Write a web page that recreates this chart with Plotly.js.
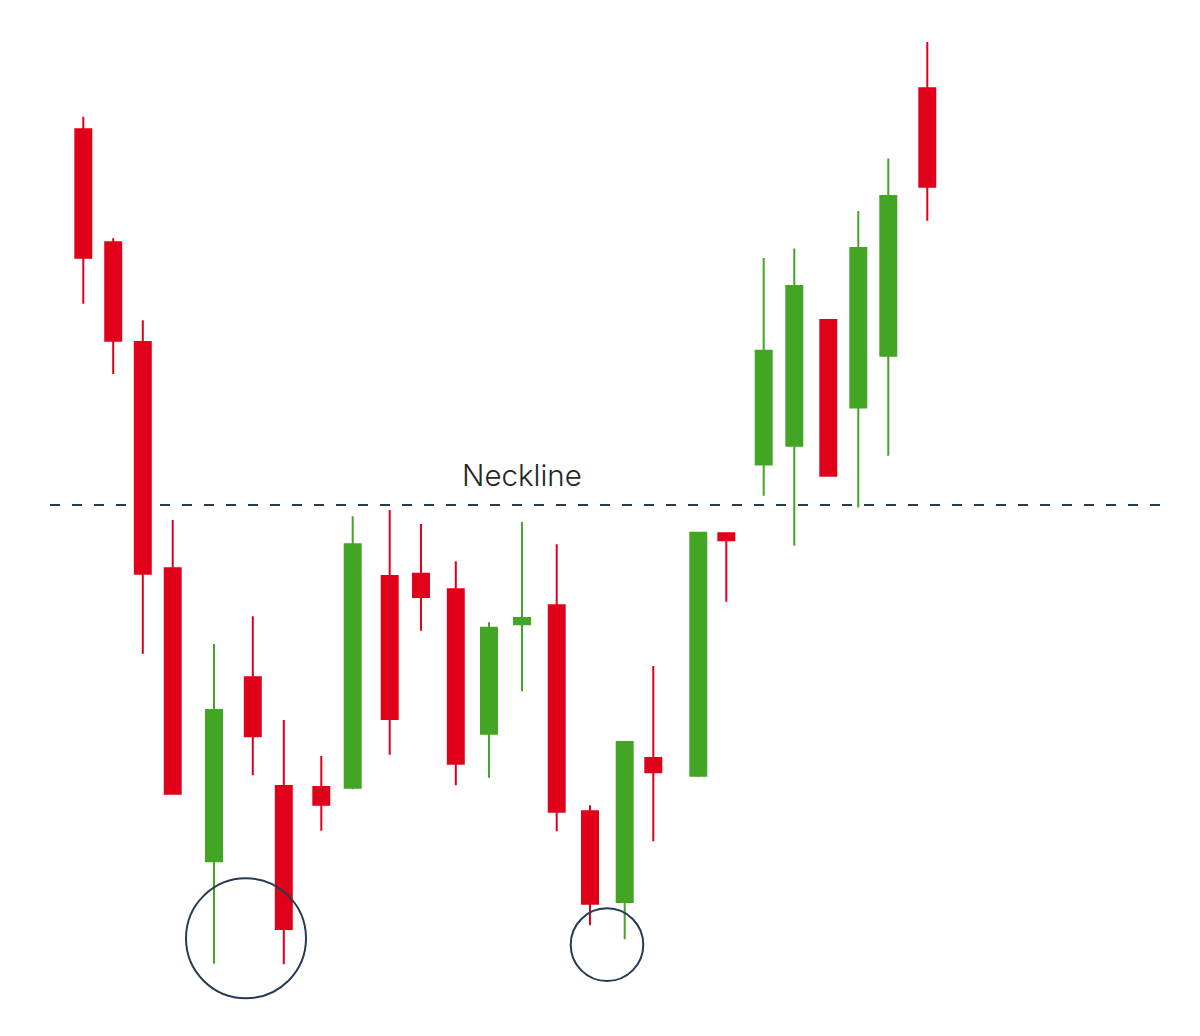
<!DOCTYPE html>
<html>
<head>
<meta charset="utf-8">
<script src="https://cdn.plot.ly/plotly-3.0.1.min.js"></script>
<style>
  html, body { margin: 0; padding: 0; background: #ffffff; }
  #chart { width: 1200px; height: 1036px; }
</style>
</head>
<body>
<div id="chart"></div>
<script>
// Session positions (time axis, irregular spacing as in the picture)
const sessions = [83.3, 113.2, 142.8, 172.7, 214, 252.8, 283.8, 321.3, 352.7, 389.7, 421, 455.8, 489, 522, 556.7, 590, 624.7, 653.3, 698.3, 726.3, 763.7, 794.3, 828.3, 858.3, 888.3, 927.3];

const openPrices  = [906.7, 793.7, 694.0, 467.7, 174.7, 358.7, 250.0, 249.0, 248.3, 460.0, 462.3, 446.7, 302.3, 411.7, 430.7, 224.7, 134.0, 278.0, 260.3, 502.7, 571.4, 590.3, 716.0, 628.5, 680.3, 947.8];
const highPrices  = [919.3, 797.7, 715.7, 516.0, 392.0, 419.7, 316.0, 280.0, 519.7, 526.0, 512.0, 474.7, 413.7, 514.0, 491.7, 230.7, 294.0, 370.0, 503.7, 502.7, 778.1, 787.4, 716.0, 824.9, 877.4, 993.9];
const lowPrices   = [732.3, 662.0, 382.3, 242.3,  72.3, 260.7,  71.7, 205.3, 246.7, 281.3, 405.3, 250.7, 258.3, 344.7, 204.7, 110.7,  96.7, 194.7, 259.0, 434.3, 540.3, 490.3, 560.3, 528.5, 580.3, 815.3];
const closePrices = [778.3, 695.3, 462.3, 242.3, 326.0, 299.7, 107.0, 231.3, 491.7, 317.0, 439.0, 272.3, 408.3, 418.0, 224.3, 132.3, 294.0, 263.7, 503.3, 495.7, 685.3, 749.9, 560.3, 788.1, 839.9, 849.2];

const necklineLevel = 531;
const necklineLabel = "Neckline";

const upColor = "#42a523";
const downColor = "#e0001a";
const navy = "#243b53";

const trace = {
  type: "candlestick",
  x: sessions,
  open: openPrices,
  high: highPrices,
  low: lowPrices,
  close: closePrices,
  increasing: { line: { color: upColor, width: 2 }, fillcolor: upColor },
  decreasing: { line: { color: downColor, width: 2 }, fillcolor: downColor },
  whiskerwidth: 0,
  hoverinfo: "skip"
};

const layout = {
  width: 1200,
  height: 1036,
  margin: { l: 0, r: 0, t: 0, b: 0 },
  paper_bgcolor: "#ffffff",
  plot_bgcolor: "#ffffff",
  showlegend: false,
  boxgap: 0.43,
  boxgroupgap: 0,
  xaxis: { range: [0, 1200], visible: false, fixedrange: true, rangeslider: { visible: false } },
  yaxis: { range: [0, 1036], visible: false, fixedrange: true },
  shapes: [
    {
      type: "line", xref: "x", yref: "y",
      x0: 50, x1: 1160, y0: necklineLevel, y1: necklineLevel,
      line: { color: navy, width: 2, dash: "10px,12px" },
      layer: "below"
    },
    {
      type: "circle", xref: "x", yref: "y",
      x0: 186, x1: 306, y0: 1036 - 998.3, y1: 1036 - 878.3,
      line: { color: navy, width: 2 },
      layer: "above"
    },
    {
      type: "circle", xref: "x", yref: "y",
      x0: 570.7, x1: 643.3, y0: 1036 - 981, y1: 1036 - 908.3,
      line: { color: navy, width: 2 },
      layer: "above"
    }
  ],
  annotations: [
    {
      text: necklineLabel,
      xref: "x", yref: "y",
      x: 522, y: necklineLevel + 30,
      showarrow: false,
      xanchor: "center", yanchor: "middle",
      font: { family: "Inter, sans-serif", size: 29.5, color: "#262626", weight: 300 }
    }
  ]
};

Plotly.newPlot("chart", [trace], layout, { staticPlot: true, displayModeBar: false });
</script>
</body>
</html>
